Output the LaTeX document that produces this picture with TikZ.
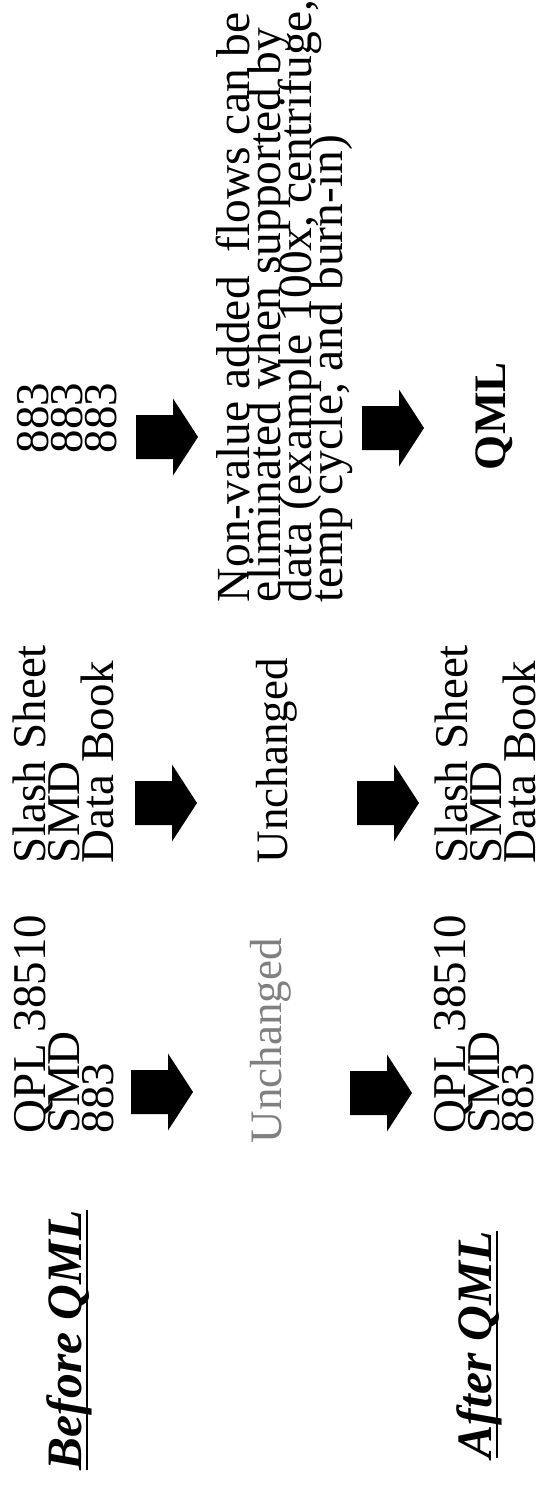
\documentclass[tikz,border=0pt]{standalone}
\usepackage{fontspec}
\setmainfont{Liberation Serif}
\setlength{\lineskiplimit}{-200bp}
\tikzset{
  txt/.style={rotate=90, anchor=north west, inner sep=0pt, outer sep=0pt, align=left,
    font=\fontsize{47bp}{34bp}\selectfont},
  note/.style={txt, font=\fontsize{47.5bp}{31bp}\selectfont},
  unch/.style={txt, font=\fontsize{45bp}{34bp}\selectfont},
  head/.style={txt, font=\fontsize{49.5bp}{50bp}\selectfont\bfseries\itshape},
  qml/.style={txt, font=\fontsize{45bp}{45bp}\selectfont\bfseries},
  uline/.style={line width=2bp, black},
  blockarrow/.pic={\fill[black] (0,-22) -- (37,-22) -- (37,-38.5) -- (62,0)
    -- (37,38.5) -- (37,22) -- (0,22) -- cycle;}
}
\begin{document}
\begin{tikzpicture}[x=1bp,y=-1bp]
\useasboundingbox (0,0) rectangle (555,1490);
\fill[white] (0,0) rectangle (555,1490);
% headings
\node[head] (before) at (47,1470) {Before QML};
\draw[uline] ([xshift=5bp]before.base west) -- ([xshift=5bp]before.base east);
\node[head] (after) at (457,1458) {After QML};
\draw[uline] ([xshift=5bp]after.base west) -- ([xshift=5bp]after.base east);
% column 1
\node[txt] (c1top) at (14,1133) {QPL 38510\\SMD\\883};
\pic (a1) at (131,1092) {blockarrow};
\node[unch, text=black!50] (c1mid) at (250,1143) {Unchanged};
\pic (a2) at (350,1093) {blockarrow};
\node[txt] (c1bot) at (434,1133) {QPL 38510\\SMD\\883};
% column 2
\node[txt] (c2top) at (13,863) {Slash Sheet\\SMD\\Data Book};
\pic (a3) at (135,803) {blockarrow};
\node[unch] (c2mid) at (256,863) {Unchanged};
\pic (a4) at (357,803) {blockarrow};
\node[txt] (c2bot) at (435,863) {Slash Sheet\\SMD\\Data Book};
% column 3
\node[txt] (c3top) at (17,453) {883\\883\\883};
\pic (a5) at (136,437) {blockarrow};
\node[note] (c3mid) at (216,602) {Non-value added\ \ flows can be\\eliminated when supported by\\data (example 100x, centrifuge,\\temp cycle, and burn-in)};
\pic (a6) at (362,428) {blockarrow};
\node[qml] (c3bot) at (476,470) {QML};
\end{tikzpicture}
\end{document}
